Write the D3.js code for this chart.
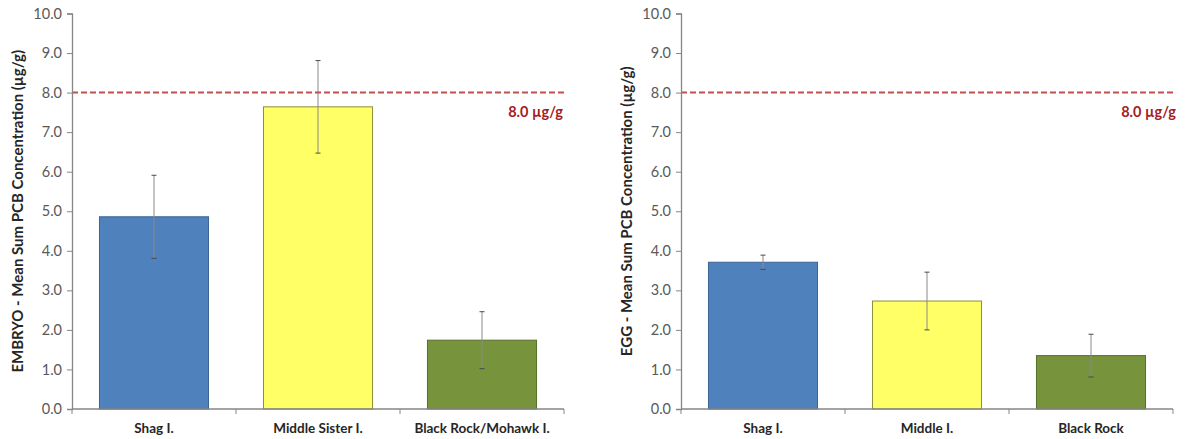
<!DOCTYPE html>
<html>
<head>
<meta charset="utf-8">
<script src="https://cdn.jsdelivr.net/npm/d3@7"></script>
<style>
  body { margin: 0; background: #fff; }
  svg text { font-family: Lato, "Open Sans", "Liberation Sans", sans-serif; }
</style>
</head>
<body>
<svg id="chart" width="1201" height="439"></svg>
<script>
// Sites and mean sum-PCB concentrations (µg/g) with their error half-widths
const embryoSites = ["Shag I.", "Middle Sister I.", "Black Rock/Mohawk I."];
const embryoMeans = [4.86, 7.64, 1.74];
const embryoErrors = [1.05, 1.17, 0.72];

const eggSites = ["Shag I.", "Middle I.", "Black Rock"];
const eggMeans = [3.71, 2.73, 1.35];
const eggErrors = [0.18, 0.73, 0.54];

const barColors = ["#4F81BD", "#FFFF66", "#77933C"];
const barStrokes = ["#3A6394", "#8C8C3A", "#55702A"];

const yTicks = [0, 1, 2, 3, 4, 5, 6, 7, 8, 9, 10];
const threshold = 8.0;
const thresholdLabel = "8.0 µg/g";

const svg = d3.select("#chart");

function drawPanel(opts) {
  const { x0, x1, sites, means, errors, title, titleX, labelX } = opts;
  const yTop = 13.5, yBottom = 409;

  const y = d3.scaleLinear().domain([0, 10]).range([yBottom, yTop]);
  const x = d3.scaleBand().domain(sites).range([x0, x1]).paddingInner(0.335).paddingOuter(0.1675);
  const xEdge = d3.scaleLinear().domain([0, sites.length]).range([x0, x1]);

  const g = svg.append("g");

  // bars
  g.selectAll("rect.bar").data(sites).enter().append("rect")
    .attr("class", "bar")
    .attr("x", d => x(d))
    .attr("width", x.bandwidth())
    .attr("y", (d, i) => y(means[i]))
    .attr("height", (d, i) => y(0) - y(means[i]))
    .attr("fill", (d, i) => barColors[i])
    .attr("stroke", (d, i) => barStrokes[i])
    .attr("stroke-width", 1);

  // error bars
  const eb = g.selectAll("g.err").data(sites).enter().append("g").attr("class", "err");
  eb.append("line")
    .attr("x1", d => x(d) + x.bandwidth() / 2)
    .attr("x2", d => x(d) + x.bandwidth() / 2)
    .attr("y1", (d, i) => y(means[i] + errors[i]))
    .attr("y2", (d, i) => y(means[i] - errors[i]))
    .attr("stroke", "#8a8a8a").attr("stroke-width", 1);
  [1, -1].forEach(s => {
    eb.append("line")
      .attr("x1", d => x(d) + x.bandwidth() / 2 - 2.5)
      .attr("x2", d => x(d) + x.bandwidth() / 2 + 2.5)
      .attr("y1", (d, i) => y(means[i] + s * errors[i]))
      .attr("y2", (d, i) => y(means[i] + s * errors[i]))
      .attr("stroke", "#4a4a4a").attr("stroke-width", 1);
  });

  // threshold line
  g.append("line")
    .attr("x1", x0).attr("x2", x1)
    .attr("y1", y(threshold)).attr("y2", y(threshold))
    .attr("stroke", "#C0504D").attr("stroke-width", 2)
    .attr("stroke-dasharray", "6,3");
  g.append("text")
    .attr("x", labelX).attr("y", y(threshold) + 24)
    .attr("text-anchor", "end")
    .attr("fill", "#A3201E")
    .attr("font-size", 14.5).attr("font-weight", "bold")
    .text(thresholdLabel);

  // y axis
  const yAxis = d3.axisLeft(y).tickValues(yTicks).tickSize(5).tickPadding(5).tickFormat(d3.format(".1f"));
  const ya = g.append("g").attr("transform", `translate(${x0},0)`).call(yAxis);
  ya.select(".domain").attr("stroke", "#868686").attr("stroke-width", 1.3);
  ya.selectAll(".tick line").attr("stroke", "#868686");
  ya.selectAll(".tick text").attr("fill", "#595959").attr("font-size", 14.5)
    .style("font-family", "Lato, 'Open Sans', sans-serif");

  // x axis with ticks at category boundaries
  g.append("line").attr("x1", x0).attr("x2", x1).attr("y1", yBottom).attr("y2", yBottom)
    .attr("stroke", "#868686").attr("stroke-width", 1.3);
  g.selectAll("line.xt").data(d3.range(sites.length + 1)).enter().append("line")
    .attr("class", "xt")
    .attr("x1", d => xEdge(d)).attr("x2", d => xEdge(d))
    .attr("y1", yBottom).attr("y2", yBottom + 5)
    .attr("stroke", "#868686");
  g.selectAll("text.xl").data(sites).enter().append("text")
    .attr("class", "xl")
    .attr("x", d => x(d) + x.bandwidth() / 2)
    .attr("y", 433)
    .attr("text-anchor", "middle")
    .attr("fill", "#262626")
    .attr("font-size", 13.5).attr("font-weight", "bold")
    .text(d => d);

  // y title
  g.append("text")
    .attr("transform", `translate(${titleX},${(yTop + yBottom) / 2}) rotate(-90)`)
    .attr("text-anchor", "middle")
    .attr("fill", "#262626")
    .attr("font-size", 15).attr("font-weight", "bold")
    .text(title);
}

drawPanel({
  x0: 72, x1: 564, sites: embryoSites, means: embryoMeans, errors: embryoErrors,
  title: "EMBRYO - Mean Sum PCB Concentration (µg/g)", titleX: 23, labelX: 563
});
drawPanel({
  x0: 681, x1: 1173, sites: eggSites, means: eggMeans, errors: eggErrors,
  title: "EGG - Mean Sum PCB Concentration (µg/g)", titleX: 632, labelX: 1176
});
</script>
</body>
</html>
